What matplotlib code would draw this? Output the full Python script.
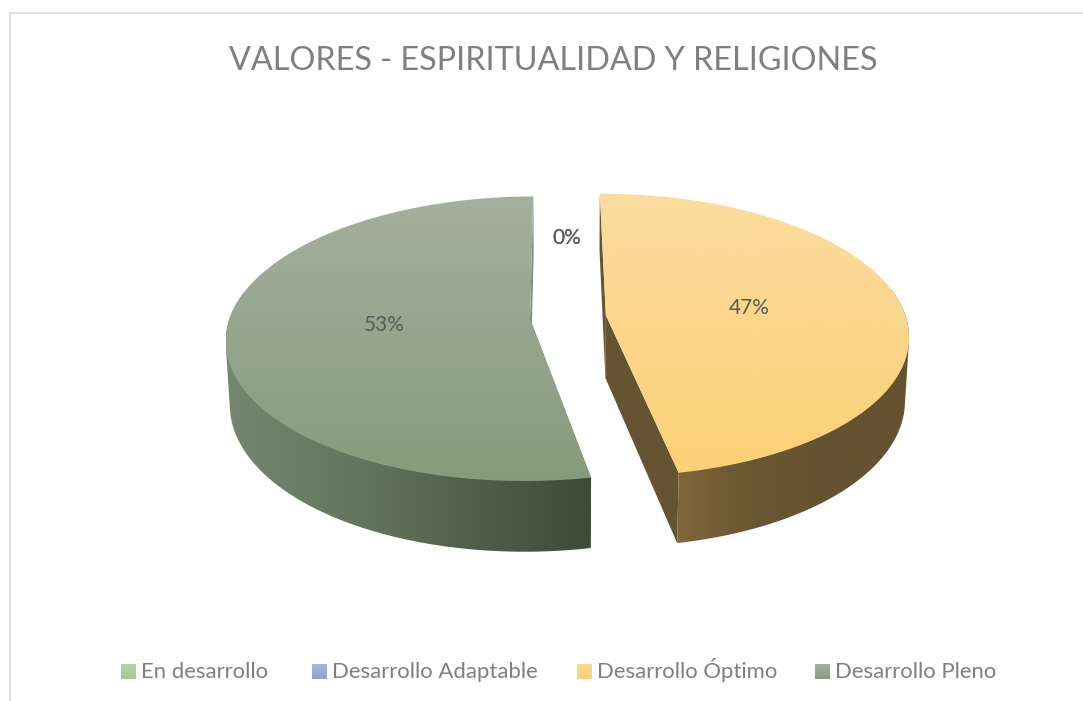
import numpy as np
import matplotlib
matplotlib.use("Agg")
import matplotlib.pyplot as plt
from matplotlib.colors import LinearSegmentedColormap
from matplotlib.patches import PathPatch
from matplotlib.path import Path

plt.rcParams['font.family'] = ['Lato', 'DejaVu Sans']

# --- data ---
TITLE = "VALORES - ESPIRITUALIDAD Y RELIGIONES"
categories = ["En desarrollo", "Desarrollo Adaptable", "Desarrollo Óptimo", "Desarrollo Pleno"]
values = [0, 0, 47, 53]
labels = ["0%", "0%", "47%", "53%"]

# --- style ---
GREY = "#7f7f7f"
LABEL = "#595959"
top_grad = {2: ["#fbdca0", "#fbd176"], 3: ["#a5b09e", "#869b7c"]}
side_grad = {2: ["#80663a", "#6a5632", "#655230", "#655230"],
             3: ["#75866e", "#66775f", "#52604b", "#3e4b3a"]}
cut_col = {2: "#665331", 3: "#7f8d78"}
swatch_grad = [["#b5d6a5", "#a0c98f"], ["#a9b8de", "#8da3d4"],
               ["#fed98e", "#fdd07a"], ["#a5b09e", "#869b7c"]]
legend_swatch_x = [121, 312, 577, 815]

# projection of the tilted disc (world units: radius 1)
CX, CY = 568, 317
A, D, K = 300.0, 139.0, 0.14
H, M = 63.5, 0.012
EXPLODE = 0.127
START = np.radians(-0.3)


def project(u, v, z=0.0):
    w = 1 + K * np.asarray(v) + M * z
    return CX + A * np.asarray(u) / w, CY + (-D * np.asarray(v) + H * z) / w


def hull(points):
    pts = sorted(map(tuple, points))
    def half(seq):
        out = []
        for p in seq:
            while len(out) > 1 and ((out[-1][0] - out[-2][0]) * (p[1] - out[-2][1])
                                    - (out[-1][1] - out[-2][1]) * (p[0] - out[-2][0])) <= 0:
                out.pop()
            out.append(p)
        return out[:-1]
    return np.array(half(pts) + half(pts[::-1]))


fig = plt.figure(figsize=(10.83, 7.01), dpi=100)
ax = fig.add_axes([0, 0, 1, 1])
ax.set_xlim(0, 1083)
ax.set_ylim(701, 0)
ax.axis("off")


def grad_fill(xy, colors, vertical=True, zorder=2):
    xy = np.asarray(xy)
    x0, x1 = xy[:, 0].min(), xy[:, 0].max()
    y0, y1 = xy[:, 1].min(), xy[:, 1].max()
    cmap = LinearSegmentedColormap.from_list("g", colors)
    t = np.linspace(0, 1, 256)
    arr = t[:, None] if vertical else t[None, :]
    path = Path(np.vstack([xy, xy[0]]), closed=True)
    patch = PathPatch(path, fc="none", ec="none", transform=ax.transData)
    ax.add_patch(patch)
    im = ax.imshow(arr, cmap=cmap, extent=(x0, x1, y1, y0), aspect="auto",
                   zorder=zorder, interpolation="bilinear")
    im.set_clip_path(patch)


total = sum(values)
ang = START
for i, val in enumerate(values):
    span = 2 * np.pi * val / total
    mid = ang + span / 2
    ex, ey = EXPLODE * np.sin(mid), EXPLODE * np.cos(mid)
    # data label at half radius of the exploded slice
    r = 0.485 + EXPLODE
    lx, ly = project(r * np.sin(mid), r * np.cos(mid))
    ax.text(lx, ly - 1, labels[i], color=LABEL, fontsize=15, ha="center", va="center", zorder=5)
    if val > 0:
        th = np.linspace(ang, ang + span, 240)
        u, v = ex + np.sin(th), ey + np.cos(th)
        tx, ty = project(u, v, 0)
        bx, by = project(u, v, 1)
        apx, apy = project(ex, ey, 0)
        abx, aby = project(ex, ey, 1)
        # cut faces
        for k in (0, -1):
            ax.fill([apx, tx[k], bx[k], abx], [apy, ty[k], by[k], aby],
                    color=cut_col[i], lw=0, zorder=2)
        # rim: only the part that faces the viewer, with its tangent silhouette
        front = np.cos(th) < 0.2
        rim = hull(np.vstack([np.c_[tx[front], ty[front]], np.c_[bx[front], by[front]]]))
        grad_fill(rim, side_grad[i], vertical=False, zorder=3)
        # top
        topf = np.vstack([[apx, apy], np.c_[tx, ty]])
        grad_fill(topf, top_grad[i], vertical=True, zorder=4)
    ang += span

ax.text(553, 70, TITLE, color=GREY, fontsize=23.3, ha="center", va="baseline", zorder=5)

for name, sx, cols in zip(categories, legend_swatch_x, swatch_grad):
    grad_fill([[sx, 664], [sx + 14.5, 664], [sx + 14.5, 679], [sx, 679]], cols, zorder=5)
    ax.text(sx + 20, 678, name, color=GREY, fontsize=15.9, ha="left", va="baseline", zorder=5)

ax.plot([10, 1083], [13, 13], color="#d9d9d9", lw=1.2, zorder=1)
ax.plot([10, 10], [13, 701], color="#d9d9d9", lw=1.2, zorder=1)
ax.set_xlim(0, 1083)
ax.set_ylim(701, 0)

fig.savefig("out.png", dpi=100, facecolor="white")
